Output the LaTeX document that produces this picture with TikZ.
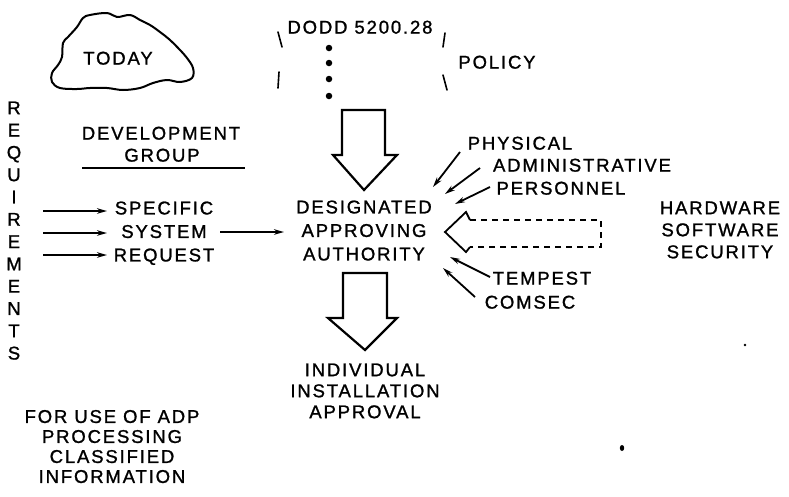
\documentclass[tikz,border=0pt]{standalone}
\usepackage{fontspec}
\setmainfont[LetterSpace=10,FakeBold=1.2]{Liberation Sans}
\usetikzlibrary{arrows.meta}
\begin{document}
\begin{tikzpicture}[x=1pt,y=-1pt,
  every node/.style={inner sep=0pt,outer sep=0pt},
  lbl/.style={font=\fontsize{18.5}{22}\selectfont,text height=13.2pt,text depth=0pt},
  mlbl/.style={font=\fontsize{18.5}{#1}\selectfont,align=center,anchor=north},
  smallarr/.style={line width=1.8pt,-{Stealth[length=10pt,width=5.5pt]}},
  hollow/.style={line width=2.2pt,line join=miter},
  stroke/.style={line width=1.6pt,line cap=round},
  dotn/.style={circle,fill=black,minimum size=6.5pt}]
\useasboundingbox (0,0) rectangle (789,496);

% cloud
\draw[line width=2pt,line join=round] plot[smooth cycle,tension=0.6] coordinates {
 (90,15) (107,13) (117,17) (130,15) (140,20) (150,25) (160,32) (170,40) (180,50)
 (187,58) (193,68) (192,78) (180,82) (167,80) (153,83) (140,88) (123,90) (107,88)
 (90,88) (77,89) (60,88) (52,82) (52,73) (58,65) (62,57) (63,43) (68,37) (77,27) (83,18)};
\node[lbl] (today) at (118,58) {TODAY};

% policy
\node[lbl] (dodd) at (360,27) {DODD 5200.28};
\node[dotn] (d1) at (329,48) {};
\node[dotn] (d2) at (329,63) {};
\node[dotn] (d3) at (329,79) {};
\node[dotn] (d4) at (329,96) {};
\draw[stroke] (278,32) -- (282,47);
\draw[stroke] (279,72) -- (278,88);
\draw[stroke] (445,33) -- (443,47);
\draw[stroke] (443,75) -- (447,90);
\node[lbl] (policy) at (497,62) {POLICY};

% requirements
\node[mlbl=22.3] (req) at (14,101.5) {R\\E\\Q\\U\\I\\R\\E\\M\\E\\N\\T\\S};

% development group
\node[lbl] (devel) at (161,133) {DEVELOPMENT};
\node[lbl] (group) at (162,155) {GROUP};
\coordinate (ul1) at (82,168);
\coordinate (ul2) at (245,168);
\draw[line width=1.6pt] (ul1) -- (ul2);

% specific system request
\node[mlbl=23.5] (ssr) at (164,201.5) {SPECIFIC\\SYSTEM\\REQUEST};
\coordinate (i1) at (43,211);
\coordinate (o1) at (107,211);
\coordinate (i2) at (43,233);
\coordinate (o2) at (107,233);
\coordinate (i3) at (43,255);
\coordinate (o3) at (107,255);
\draw[smallarr] (i1) -- (o1);
\draw[smallarr] (i2) -- (o2);
\draw[smallarr] (i3) -- (o3);

% DAA
\node[mlbl=23.5] (daa) at (364,200.5) {DESIGNATED\\APPROVING\\AUTHORITY};
\coordinate (s1) at (220,232);
\coordinate (s2) at (284,232);
\draw[smallarr] (s1) -- (s2);

% top hollow arrow
\draw[hollow] (342,110) -- (385,110) -- (385,155) -- (397,155) -- (364,190) -- (333,155) -- (342,155) -- cycle;
% bottom hollow arrow
\draw[hollow] (343,273) -- (387,273) -- (387,318) -- (397,318) -- (365,350) -- (328,318) -- (343,318) -- cycle;

% physical etc.
\node[lbl] (phys) at (520,143) {PHYSICAL};
\node[lbl] (admin) at (582,165) {ADMINISTRATIVE};
\node[lbl] (pers) at (561,188) {PERSONNEL};
\coordinate (pa1) at (460,152);
\coordinate (pa2) at (433,187);
\coordinate (aa1) at (480,168);
\coordinate (aa2) at (445,194);
\coordinate (ea1) at (490,187);
\coordinate (ea2) at (455,204);
\draw[smallarr] (pa1) -- (pa2);
\draw[smallarr] (aa1) -- (aa2);
\draw[smallarr] (ea1) -- (ea2);

% tempest / comsec
\node[lbl] (tempest) at (542,278) {TEMPEST};
\node[lbl] (comsec) at (530,302) {COMSEC};
\coordinate (ta1) at (490,277);
\coordinate (ta2) at (450,257);
\coordinate (ca1) at (475,297);
\coordinate (ca2) at (443,268);
\draw[smallarr] (ta1) -- (ta2);
\draw[smallarr] (ca1) -- (ca2);

% dashed hollow arrow
\draw[line width=1.8pt,line join=miter] (470,220) -- (466,212) -- (445,232) -- (466,252) -- (470,247);
\draw[line width=1.8pt,dash pattern=on 6pt off 5pt] (470,220) -- (601,220) -- (601,247) -- (470,247);

\node[mlbl=22] (hss) at (720,201.5) {HARDWARE\\SOFTWARE\\SECURITY};

% bottom texts
\node[mlbl=21] (iia) at (365,363.5) {INDIVIDUAL\\INSTALLATION\\APPROVAL};
\node[mlbl=20] (adp) at (112,410) {FOR USE OF ADP\\PROCESSING\\CLASSIFIED\\INFORMATION};

% stray marks
\fill (745,345) circle (1.3pt);
\fill (622,448) ellipse (2.2pt and 3pt);
\end{tikzpicture}
\end{document}
